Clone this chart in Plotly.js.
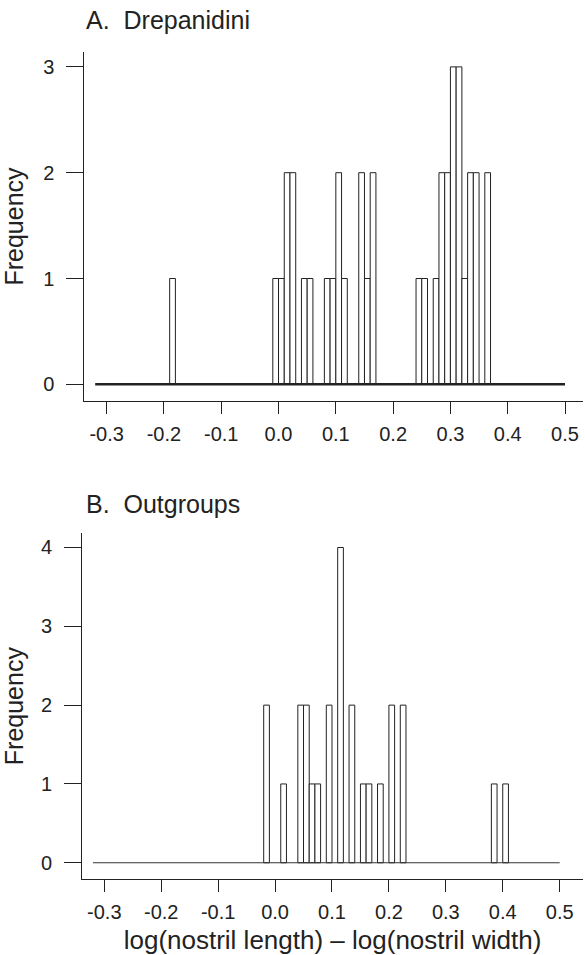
<!DOCTYPE html>
<html>
<head>
<meta charset="utf-8">
<script src="https://cdn.plot.ly/plotly-3.0.1.min.js"></script>
<style>html,body{margin:0;padding:0;background:#fff;}#chart{width:585px;height:955px;}</style>
</head>
<body>
<div id="chart"></div>
<script>
// ---- data ----
var binWidth = 0.01;
var aBinLeft = [-0.19, -0.01, 0.00, 0.01, 0.02, 0.04, 0.05, 0.08, 0.09, 0.10, 0.11, 0.14, 0.15, 0.16, 0.24, 0.25, 0.27, 0.28, 0.29, 0.30, 0.31, 0.32, 0.33, 0.34, 0.36];
var aCounts  = [1, 1, 1, 2, 2, 1, 1, 1, 1, 2, 1, 2, 1, 2, 1, 1, 1, 2, 2, 3, 3, 1, 2, 2, 2];
var bBinLeft = [-0.02, 0.01, 0.04, 0.05, 0.06, 0.07, 0.09, 0.11, 0.13, 0.15, 0.16, 0.18, 0.20, 0.22, 0.38, 0.40];
var bCounts  = [2, 1, 2, 2, 1, 1, 2, 4, 2, 1, 1, 1, 2, 2, 1, 1];
var histRange = [-0.32, 0.50];
var xTickVals = [-0.3, -0.2, -0.1, 0.0, 0.1, 0.2, 0.3, 0.4, 0.5];
var xTickText = ["-0.3", "-0.2", "-0.1", "0.0", "0.1", "0.2", "0.3", "0.4", "0.5"];
var aYTicks = [0, 1, 2, 3];
var bYTicks = [0, 1, 2, 3, 4];
var panelTitles = ["A.\u00a0\u00a0Drepanidini", "B.\u00a0\u00a0Outgroups"];
var yTitle = "Frequency";
var xTitle = "log(nostril length) \u2013 log(nostril width)";

// ---- layout geometry (pixels) ----
var W = 585, H = 955, mL = 82, mR = 2, mT = 40, mB = 60;
var pw = W - mL - mR, ph = H - mT - mB;
function dx(px){ return (px - mL) / pw; }
function dy(py){ return (H - mB - py) / ph; }

var ink = '#222';
var font = 'Liberation Sans, Arial, sans-serif';

function centers(lefts){ return lefts.map(function(v){ return v + binWidth / 2; }); }

var barStyle = {color: '#fff', line: {color: ink, width: 1}};
var traces = [
  {type: 'bar', x: centers(aBinLeft), y: aCounts, width: binWidth, marker: barStyle, xaxis: 'x', yaxis: 'y', hoverinfo: 'x+y'},
  {type: 'scatter', mode: 'lines', x: histRange, y: [0, 0], line: {color: ink, width: 2.5}, xaxis: 'x', yaxis: 'y', hoverinfo: 'skip'},
  {type: 'bar', x: centers(bBinLeft), y: bCounts, width: binWidth, marker: barStyle, xaxis: 'x2', yaxis: 'y2', hoverinfo: 'x+y'},
  {type: 'scatter', mode: 'lines', x: histRange, y: [0, 0], line: {color: '#333', width: 1}, xaxis: 'x2', yaxis: 'y2', hoverinfo: 'skip'}
];

function xAxis(domain, range, anchor, title){
  var ax = {
    domain: domain, range: range, anchor: anchor,
    tickmode: 'array', tickvals: xTickVals, ticktext: xTickText,
    ticks: 'outside', ticklen: 12, tickwidth: 1, tickcolor: ink,
    showline: true, linecolor: ink, linewidth: 1, mirror: false,
    showgrid: false, zeroline: false, ticklabelstandoff: 3,
    tickfont: {family: font, size: 20, color: ink}
  };
  if (title) ax.title = {text: title, font: {family: font, size: 26, color: ink}, standoff: 8};
  return ax;
}
function yAxis(domain, range, anchor, ticks){
  return {
    domain: domain, range: range, anchor: anchor,
    tickmode: 'array', tickvals: ticks, ticktext: ticks.map(String),
    ticks: 'outside', ticklen: 17, tickwidth: 1, tickcolor: ink,
    showline: true, linecolor: ink, linewidth: 1, mirror: false,
    showgrid: false, zeroline: false, ticklabelstandoff: 8,
    tickfont: {family: font, size: 20, color: ink},
    title: {text: yTitle, font: {family: font, size: 25, color: ink}, standoff: 14}
  };
}

var layout = {
  width: W, height: H,
  margin: {l: mL, r: mR, t: mT, b: mB},
  paper_bgcolor: '#fff', plot_bgcolor: 'rgba(0,0,0,0)',
  showlegend: false, bargap: 0,
  font: {family: font, color: ink},
  xaxis:  xAxis([dx(84.3), dx(583)], [-0.339, 0.5314], 'y', null),
  yaxis:  yAxis([dy(400.7), dy(52.3)], [-0.155, 3.138], 'x', aYTicks),
  xaxis2: xAxis([dx(82), dx(583)], [-0.3392, 0.541], 'y2', xTitle),
  yaxis2: yAxis([dy(879), dy(533.3)], [-0.206, 4.18], 'x2', bYTicks),
  annotations: [
    {text: panelTitles[0], xref: 'paper', yref: 'paper', x: dx(84), y: dy(19.5), xanchor: 'left', yanchor: 'middle', showarrow: false, font: {family: font, size: 25, color: ink}},
    {text: panelTitles[1], xref: 'paper', yref: 'paper', x: dx(84), y: dy(503.5), xanchor: 'left', yanchor: 'middle', showarrow: false, font: {family: font, size: 25, color: ink}}
  ]
};

Plotly.newPlot('chart', traces, layout, {displayModeBar: false, staticPlot: true});
</script>
</body>
</html>
